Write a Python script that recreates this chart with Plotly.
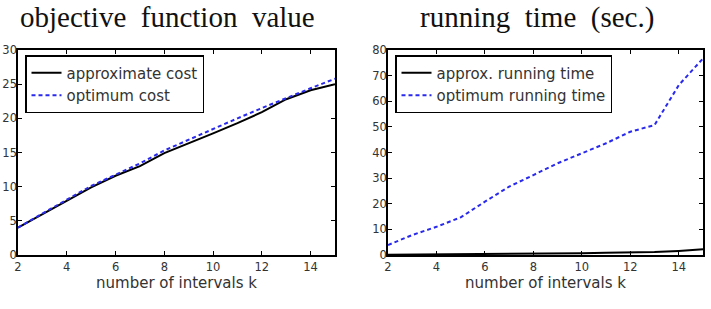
import plotly.graph_objects as go

k = list(range(2, 16))
approx_cost = [4.0, 6.0, 8.0, 9.9, 11.6, 13.0, 14.9, 16.3, 17.8, 19.3, 20.9, 22.8, 24.1, 25.0]
opt_cost = [4.0, 6.1, 8.1, 10.1, 11.8, 13.4, 15.3, 16.9, 18.5, 20.0, 21.5, 23.0, 24.4, 25.8]
approx_time = [0.1, 0.15, 0.2, 0.25, 0.3, 0.4, 0.5, 0.6, 0.7, 0.9, 1.0, 1.2, 1.6, 2.2]
opt_time = [3.9, 7.8, 11.0, 14.7, 20.8, 26.7, 31.2, 35.8, 39.7, 43.6, 48.1, 50.7, 66.3, 76.7]

W, H = 711, 309
BLUE = "#2a2aee"
DASH = "4px,3px"
TICKF = dict(family="DejaVu Sans", size=11.5, color="#333333")
LEGF = dict(family="DejaVu Sans", size=15, color="#333333")
XTF = dict(family="DejaVu Sans", size=15, color="#333333")
TITF = dict(family="Liberation Serif", size=29, color="#111111")

fig = go.Figure()
fig.add_trace(go.Scatter(x=k, y=approx_cost, mode="lines", name="approximate cost",
                         line=dict(color="black", width=2), xaxis="x", yaxis="y", legend="legend"))
fig.add_trace(go.Scatter(x=k, y=opt_cost, mode="lines", name="optimum cost",
                         line=dict(color=BLUE, width=2, dash=DASH), xaxis="x", yaxis="y", legend="legend"))
fig.add_trace(go.Scatter(x=k, y=approx_time, mode="lines", name="approx. running time",
                         line=dict(color="black", width=2), xaxis="x2", yaxis="y2", legend="legend2"))
fig.add_trace(go.Scatter(x=k, y=opt_time, mode="lines", name="optimum running time",
                         line=dict(color=BLUE, width=2, dash=DASH), xaxis="x2", yaxis="y2", legend="legend2"))

ydom = [(H - 255) / H, (H - 50) / H]
ax = dict(showgrid=False, zeroline=False, showline=True, linecolor="black", linewidth=1.5,
          mirror="allticks", ticks="inside", ticklen=4, tickcolor="black", tickfont=TICKF,
          automargin=False)

leg = dict(xanchor="left", yanchor="top", bordercolor="black", borderwidth=1.5,
           bgcolor="white", font=LEGF, tracegroupgap=0, itemwidth=30)

fig.update_layout(
    width=W, height=H, margin=dict(l=0, r=0, t=0, b=0),
    paper_bgcolor="white", plot_bgcolor="white",
    xaxis=dict(ax, domain=[18 / W, 335 / W], range=[2, 15], tickvals=[2, 4, 6, 8, 10, 12, 14],
               title=dict(text="number of intervals k", font=XTF, standoff=0)),
    yaxis=dict(ax, domain=ydom, range=[0, 30], tickvals=[0, 5, 10, 15, 20, 25, 30], anchor="x",
               ticklabelstandoff=-3),
    xaxis2=dict(ax, domain=[388 / W, 703 / W], range=[2, 15], tickvals=[2, 4, 6, 8, 10, 12, 14], anchor="y2",
                title=dict(text="number of intervals k", font=XTF, standoff=0)),
    yaxis2=dict(ax, domain=ydom, range=[0, 80], tickvals=[0, 10, 20, 30, 40, 50, 60, 70, 80], anchor="x2",
                ticklabelstandoff=-3),
    legend=dict(leg, x=25 / W, y=1 - 55 / H),
    legend2=dict(leg, x=395 / W, y=1 - 55 / H),
    annotations=[
        dict(text="objective  function  value", x=167 / W, y=1, xref="paper", yref="paper",
             xanchor="center", yanchor="top", showarrow=False, font=TITF, borderpad=0),
        dict(text="running  time  (sec.)", x=537 / W, y=1, xref="paper", yref="paper",
             xanchor="center", yanchor="top", showarrow=False, font=TITF, borderpad=0),
    ],
)

fig.write_html("out.html")
